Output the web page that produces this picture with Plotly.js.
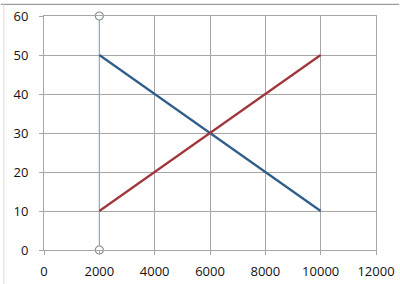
<!DOCTYPE html>
<html><head><meta charset="utf-8">
<script src="https://cdn.plot.ly/plotly-3.0.1.min.js"></script>
<style>body{margin:0;padding:0;background:#fff}#c{width:400px;height:284px}</style>
</head><body><div id="c"></div>
<script>
const xEnds = [2000, 10000];
const blueY = [50, 10];
const redY = [10, 50];
const markerX = [2000, 2000];
const markerY = [0, 60];
const xTicks = [0, 2000, 4000, 6000, 8000, 10000, 12000];
const yTicks = [0, 10, 20, 30, 40, 50, 60];

const traces = [
  {x: markerX, y: markerY, mode: 'lines+markers', cliponaxis: false,
   line: {color: '#8eaccc', width: 1.2},
   marker: {symbol: 'circle', size: 8, color: '#ffffff', line: {color: '#8c8c8c', width: 1.2}},
   showlegend: false},
  {x: xEnds, y: blueY, mode: 'lines', line: {color: '#2f5d8c', width: 2.2}, showlegend: false},
  {x: xEnds, y: redY, mode: 'lines', line: {color: '#a0363b', width: 2.2}, showlegend: false}
];

const layout = {
  width: 400, height: 284,
  margin: {l: 43.5, r: 23.5, t: 16, b: 34, pad: 0},
  paper_bgcolor: '#ffffff', plot_bgcolor: '#ffffff',
  font: {family: 'Open Sans, Liberation Sans, sans-serif', size: 13, color: '#111'},
  xaxis: {range: [0, 12000], tickvals: xTicks, ticktext: xTicks.map(String),
    showgrid: true, gridcolor: '#a6a6a6', gridwidth: 1, zeroline: false,
    showline: true, mirror: true, linecolor: '#a6a6a6', linewidth: 1,
    ticks: 'outside', ticklen: 4, tickcolor: '#a6a6a6', ticklabelstandoff: 5,
    fixedrange: true},
  yaxis: {range: [0, 60], tickvals: yTicks, ticktext: yTicks.map(String),
    showgrid: true, gridcolor: '#a6a6a6', gridwidth: 1, zeroline: false,
    showline: true, mirror: true, linecolor: '#a6a6a6', linewidth: 1,
    ticks: 'outside', ticklen: 4, tickcolor: '#a6a6a6', ticklabelstandoff: 8,
    fixedrange: true},
  shapes: [
    {type: 'line', xref: 'paper', yref: 'paper', x0: -0.13, x1: 1.07, y0: 1.05, y1: 1.05,
     line: {color: '#9a9a9a', width: 1.2}},
    {type: 'line', xref: 'paper', yref: 'paper', x0: -0.121, x1: -0.121, y0: -0.15, y1: 1.05,
     line: {color: '#dcdcdc', width: 1}}
  ]
};
Plotly.newPlot('c', traces, layout, {staticPlot: true, displayModeBar: false});
</script></body></html>
